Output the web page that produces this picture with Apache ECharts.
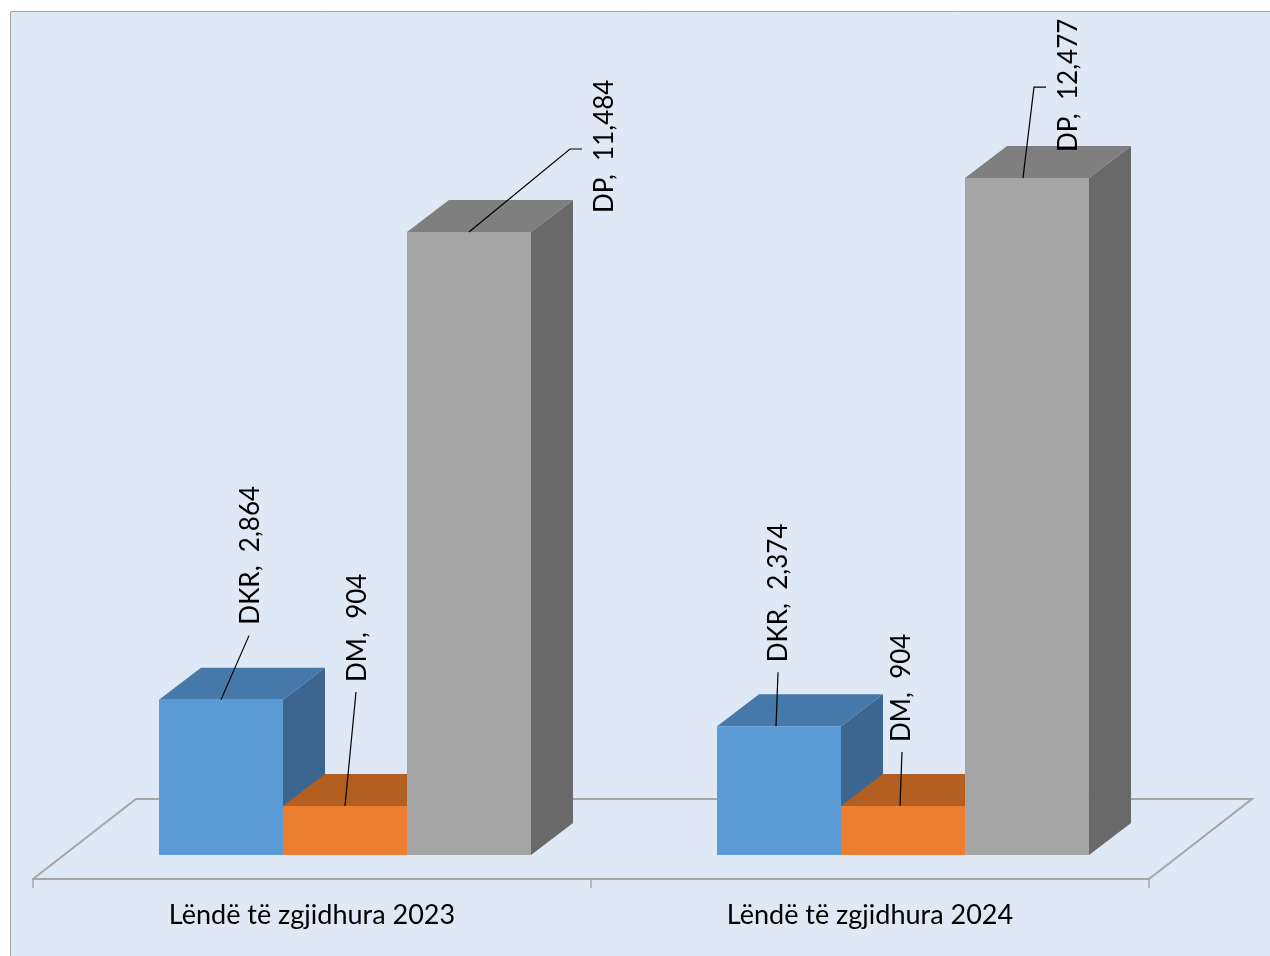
<!DOCTYPE html>
<html>
<head>
<meta charset="utf-8">
<script src="https://cdn.jsdelivr.net/npm/echarts@6/dist/echarts.min.js"></script>
<style>
html,body{margin:0;padding:0;background:#ffffff;}
#chart{width:1270px;height:956px;}
</style>
</head>
<body>
<div id="chart"></div>
<script>
// ---- data ----
const categories = ['Lëndë të zgjidhura 2023', 'Lëndë të zgjidhura 2024'];
const seriesNames = ['DKR', 'DM', 'DP'];
const dkrValues = [2864, 2374];
const dmValues = [904, 904];
const dpValues = [11484, 12477];

// ---- style / layout ----
const faceColors = [
  { front: '#5b9bd5', top: '#4678a9', side: '#3c6590' },
  { front: '#ed7d31', top: '#b45f22', side: '#9c521d' },
  { front: '#a5a5a5', top: '#7f7f7f', side: '#696969' }
];
const DX = 42, DY = -32;        // bar depth projection
const SHIFT = 33;               // bars sit in the middle of the floor depth
const FLOOR_FRONT = 24, FLOOR_BACK = -56, FLOOR_DX = 103;
// leader line and label offsets, relative to the top-front-centre of each bar
const labelLayout = [
  [ { pts: [[0,0],[28,-64]], txt: [30,-75] },  { pts: [[0,0],[11,-114]], txt: [13,-124] }, { pts: [[0,0],[101,-83],[113,-83]], txt: [136,-19] } ],
  [ { pts: [[-3,0],[-1,-54]], txt: [0,-64] },  { pts: [[-3,0],[-1,-54]], txt: [-1,-64] },  { pts: [[-4,0],[7,-91],[19,-91]], txt: [42,-26] } ]
];

const valueSets = [dkrValues, dmValues, dpValues];
const barData = [];
categories.forEach((c, ci) => {
  seriesNames.forEach((s, si) => {
    barData.push([ci, si, valueSets[si][ci]]);
  });
});

function fmt(v) { return v.toLocaleString('en-US'); }

function barGeom(api) {
  const ci = api.value(0), si = api.value(1), v = api.value(2);
  const base = api.coord([ci, 0]);
  const top = api.coord([ci, v]);
  const band = api.size([1, 0])[0];
  const bw = band * 0.2222;
  const l = base[0] + SHIFT - 1.5 * bw + si * bw;
  return { ci, si, v, l, bw, t: top[1], b: base[1] };
}

const chart = echarts.init(document.getElementById('chart'), null, { renderer: 'canvas' });
chart.setOption({
  backgroundColor: '#ffffff',
  animation: false,
  graphic: [{
    type: 'rect', z: -10, silent: true,
    shape: { x: 10.5, y: 11.5, width: 1262, height: 950 },
    style: { fill: '#dee9f5', stroke: '#a6a6a6', lineWidth: 1 }
  }],
  grid: { left: 33, right: 121, top: 95.5, bottom: 101 },
  xAxis: {
    type: 'category',
    data: categories,
    offset: FLOOR_FRONT,
    axisLine: { show: true, onZero: false, lineStyle: { color: '#a6a6a6', width: 2 } },
    axisTick: { show: true, length: 9, lineStyle: { color: '#a6a6a6', width: 1.5 } },
    axisLabel: { margin: 23, color: '#000000', fontSize: 27, fontFamily: 'Lato' },
    splitLine: { show: false }
  },
  yAxis: { type: 'value', min: 0, max: 14000, show: false, splitLine: { show: false } },
  series: [
    {
      type: 'custom', z: 1, silent: true,
      data: [[0, 0, 0]],
      encode: { x: 0, y: 2 },
      renderItem: function (params, api) {
        const cs = params.coordSys;
        const yb = cs.y + cs.height;
        const x0 = cs.x, x1 = cs.x + cs.width;
        const pts = [[x0, yb + FLOOR_FRONT], [x0 + FLOOR_DX, yb + FLOOR_BACK], [x1 + FLOOR_DX, yb + FLOOR_BACK], [x1, yb + FLOOR_FRONT]];
        return {
          type: 'polyline',
          shape: { points: pts },
          style: { stroke: '#a6a6a6', lineWidth: 2, fill: null }
        };
      }
    },
    {
      type: 'custom', z: 2, silent: true,
      data: barData,
      encode: { x: 0, y: 2 },
      renderItem: function (params, api) {
        const g = barGeom(api);
        const c = faceColors[g.si];
        const l = g.l, r = g.l + g.bw, t = g.t, b = g.b;
        return {
          type: 'group',
          children: [
            { type: 'polygon', shape: { points: [[r, t], [r + DX, t + DY], [r + DX, b + DY], [r, b]] }, style: { fill: c.side } },
            { type: 'polygon', shape: { points: [[l, t], [r, t], [r + DX, t + DY], [l + DX, t + DY]] }, style: { fill: c.top } },
            { type: 'rect', shape: { x: l, y: t, width: g.bw, height: b - t }, style: { fill: c.front } }
          ]
        };
      }
    },
    {
      type: 'custom', z: 3, silent: true,
      data: barData,
      encode: { x: 0, y: 2 },
      renderItem: function (params, api) {
        const g = barGeom(api);
        const cx = g.l + g.bw / 2, cy = g.t;
        const lay = labelLayout[g.ci][g.si];
        const pts = lay.pts.map(p => [cx + p[0], cy + p[1]]);
        return {
          type: 'group',
          children: [
            { type: 'polyline', shape: { points: pts }, style: { stroke: '#000000', lineWidth: 1.2, fill: null } },
            {
              type: 'text',
              x: cx + lay.txt[0], y: cy + lay.txt[1],
              rotation: Math.PI / 2,
              style: {
                text: seriesNames[g.si] + ',  ' + fmt(g.v),
                fill: '#000000',
                font: '26px Lato',
                align: 'left',
                verticalAlign: 'middle'
              }
            }
          ]
        };
      }
    }
  ]
});
</script>
</body>
</html>
